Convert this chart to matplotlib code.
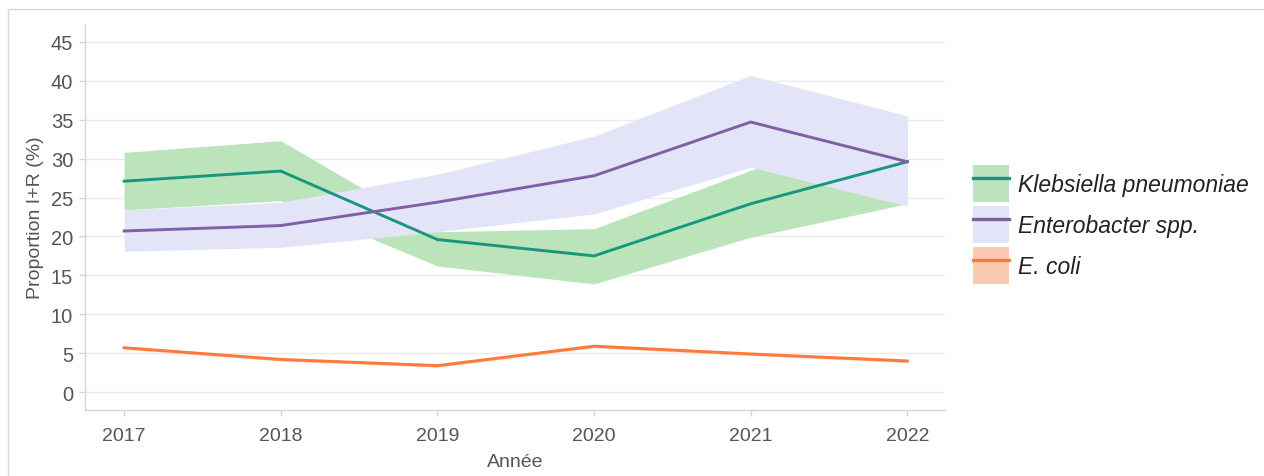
"""Proportion I+R par espèce, 2017-2022."""

import matplotlib
matplotlib.use("Agg")
import matplotlib.pyplot as plt
from matplotlib.lines import Line2D
from matplotlib.patches import Patch, Rectangle
from matplotlib.legend_handler import HandlerTuple

years = [2017, 2018, 2019, 2020, 2021, 2022]

kleb = [27.1, 28.4, 19.6, 17.5, 24.2, 29.6]
kleb_low = [23.4, 24.6, 16.2, 13.9, 19.9, 24.2]
kleb_high = [30.8, 32.3, 20.6, 21.0, 28.5, 35.0]

entero = [20.7, 21.4, 24.4, 27.8, 34.7, 29.6]
entero_low = [18.1, 18.6, 20.6, 22.9, 28.9, 23.9]
entero_high = [23.4, 24.4, 28.0, 32.9, 40.7, 35.5]

ecoli = [5.7, 4.2, 3.4, 5.9, 4.9, 4.0]
ecoli_low = [5.5, 4.0, 3.2, 5.7, 4.7, 3.8]
ecoli_high = [5.9, 4.4, 3.6, 6.1, 5.1, 4.2]

labels = ["Klebsiella pneumoniae", "Enterobacter spp.", "E. coli"]
line_colors = ["#1a9680", "#7f5fa8", "#ff7a3a"]
band_colors = ["#bbe4bb", "#e4e4f8", "#fbcab3"]

plt.rcParams["font.family"] = ["Liberation Sans", "DejaVu Sans"]

fig = plt.figure(figsize=(12.64, 4.77), dpi=100)
ax = fig.add_axes([0.0672, 0.1384, 0.6804, 0.8092])

series = [
    (kleb, kleb_low, kleb_high),
    (entero, entero_low, entero_high),
    (ecoli, ecoli_low, ecoli_high),
]
for (vals, low, high), bc in zip(series, band_colors):
    ax.fill_between(years, low, high, color=bc, linewidth=0, zorder=2)
for (vals, low, high), lc in zip(series, line_colors):
    ax.plot(years, vals, color=lc, linewidth=2.1, zorder=3)

ax.set_xlim(2016.75, 2022.24)
ax.set_ylim(-2.3, 47.3)
ax.set_xticks(years)
ax.set_yticks(range(0, 50, 5))
ax.grid(axis="y", color="#ebebeb", linewidth=1.0, zorder=0)
ax.set_axisbelow(True)

for side in ("top", "right"):
    ax.spines[side].set_visible(False)
for side in ("left", "bottom"):
    ax.spines[side].set_color("#d4d4d4")
    ax.spines[side].set_linewidth(1.0)
ax.tick_params(colors="#d4d4d4", labelcolor="#555555", labelsize=14,
               length=4.5, width=1.0)
ax.tick_params(axis="x", pad=7.5)
ax.tick_params(axis="y", pad=4, labelsize=14.5)

ax.set_xlabel("Année", fontsize=14, color="#555555", labelpad=7)
ax.set_ylabel("Proportion I+R (%)", fontsize=14, color="#555555", labelpad=5)

handles = [
    (Patch(facecolor=bc, edgecolor="none"), Line2D([], [], color=lc, linewidth=2.4))
    for lc, bc in zip(line_colors, band_colors)
]
leg = fig.legend(handles, labels, loc="center left",
                 bbox_to_anchor=(0.7625, 0.527), frameon=False, borderaxespad=0,
                 fontsize=16.5, handlelength=1.57, handleheight=2.1,
                 labelspacing=0.18, handletextpad=0.4,
                 handler_map={tuple: HandlerTuple(ndivide=1, pad=0)})
for text in leg.get_texts():
    text.set_fontstyle("italic")
    text.set_color("#222222")

# cadre gris clair autour de la figure
fig.patches.append(Rectangle((8 / 1264, -0.01), 1.0, 1 - 10 / 477 + 0.01,
                             transform=fig.transFigure, fill=False,
                             edgecolor="#d8d8d8", linewidth=1.0))

fig.savefig("out.png", dpi=100)
plt.close(fig)
